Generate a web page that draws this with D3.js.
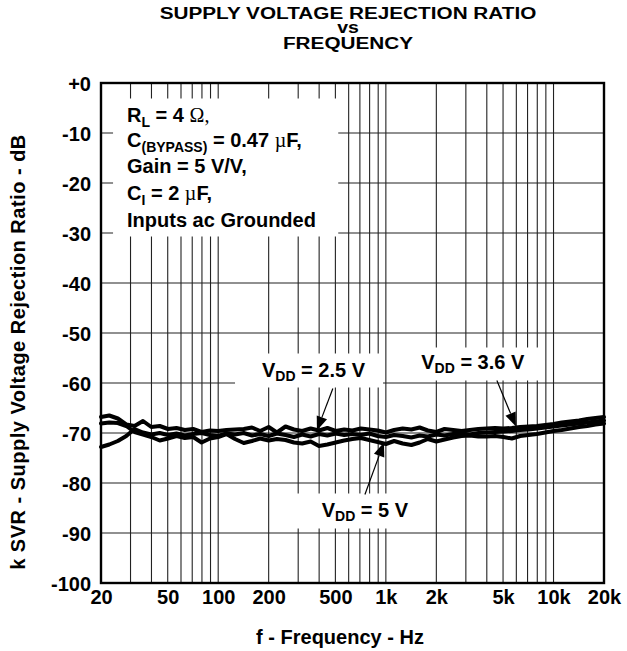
<!DOCTYPE html>
<html><head><meta charset="utf-8">
<script src="https://cdn.jsdelivr.net/npm/d3@7"></script>
<style>
body{margin:0;background:#fff;}
svg text{font-family:"Liberation Sans",Arial,Helvetica,sans-serif;font-weight:bold;fill:#000;}
</style></head><body>
<svg id="chart" width="627" height="651"></svg>
<script>
// ---------- data ----------
const freqs = [20, 22.4, 25.2, 28.3, 31.7, 35.6, 39.9, 44.8, 50.2, 56.4, 63.2, 70.9, 79.6, 89.3, 100, 112,
  126, 142, 159, 178, 200, 224, 252, 283, 317, 356, 399, 448, 502, 564, 632,
  709, 796, 893, 1000, 1120, 1260, 1420, 1590, 1780, 2000, 2240, 2520, 2830, 3170, 3560,
  3990, 4480, 5020, 5640, 6320, 7090, 7960, 8930, 10000, 11200, 12600, 14200, 15900, 17800, 20000];
const vdd25 = [-66.8, -66.5, -67.1, -68.3, -68.6, -67.6, -68.8, -68.6, -69.2, -69.0, -69.4, -69.2, -69.8, -69.5, -69.6, -69.4,
  -69.3, -69.2, -68.9, -69.6, -68.8, -69.9, -68.7, -69.3, -69.6, -69.1, -69.5, -69.0, -69.6, -69.3, -69.5,
  -69.1, -69.3, -69.5, -69.9, -69.4, -69.1, -69.3, -68.9, -69.5, -69.8, -69.2, -69.4, -69.6, -69.4, -69.2,
  -69.1, -69.0, -69.1, -69.0, -68.8, -68.7, -68.6, -68.4, -68.2, -67.9, -67.7, -67.5, -67.2, -67.0, -66.8];
const vdd36 = [-72.8, -72.3, -71.6, -70.6, -69.2, -69.9, -70.3, -70.0, -70.4, -70.1, -70.5, -70.2, -70.0, -70.4, -70.6, -70.1,
  -70.3, -70.0, -70.5, -70.2, -70.6, -70.1, -70.4, -70.8, -70.3, -70.7, -70.2, -70.5, -70.1, -70.4, -70.2,
  -70.4, -70.1, -70.6, -70.8, -70.4, -70.6, -70.9, -70.5, -70.7, -70.3, -70.5, -70.2, -70.1, -70.3, -70.0,
  -69.9, -69.8, -69.7, -69.6, -69.4, -69.3, -69.1, -68.9, -68.7, -68.5, -68.3, -68.1, -67.9, -67.7, -67.5];
const vdd5 = [-68.1, -67.9, -68.0, -68.6, -69.8, -70.3, -70.8, -71.5, -71.1, -70.6, -71.0, -70.8, -71.9, -71.1, -70.8, -70.2,
  -71.2, -72.0, -71.6, -71.1, -71.5, -71.2, -71.4, -71.9, -72.1, -71.7, -72.6, -72.3, -71.9, -71.5, -71.2,
  -71.0, -71.4, -71.8, -72.2, -71.6, -72.1, -72.4, -71.9, -71.2, -71.7, -71.3, -70.9, -70.6, -70.5, -70.7,
  -70.7, -70.6, -70.8, -71.1, -70.6, -70.4, -70.2, -69.9, -69.6, -69.4, -69.1, -68.8, -68.6, -68.3, -68.1];

const yTicks = [0, -10, -20, -30, -40, -50, -60, -70, -80, -90, -100];
const yTickLabels = ["+0", "-10", "-20", "-30", "-40", "-50", "-60", "-70", "-80", "-90", "-100"];
const xTicks = [20, 50, 100, 200, 500, 1000, 2000, 5000, 10000, 20000];
const xTickLabels = ["20", "50", "100", "200", "500", "1k", "2k", "5k", "10k", "20k"];
const gridFreqs = [30, 40, 50, 60, 70, 80, 90, 100, 200, 300, 400, 500, 600, 700, 800, 900, 1000,
  2000, 3000, 4000, 5000, 6000, 7000, 8000, 9000, 10000];
const seriesNames = ["VDD = 2.5 V", "VDD = 3.6 V", "VDD = 5 V"];

// ---------- layout ----------
const svg = d3.select("#chart");
const plot = {left: 101, top: 83, right: 604, bottom: 583};
const x = d3.scaleLog().domain([20, 20000]).range([plot.left, plot.right]);
const y = d3.scaleLinear().domain([-100, 0]).range([plot.bottom, plot.top]);

// title
const title = svg.append("g").attr("transform", "translate(348,0) scale(1.22,1)");
title.append("text").attr("x", 0).attr("y", 19).attr("text-anchor", "middle").attr("font-size", 17).text("SUPPLY VOLTAGE REJECTION RATIO");
title.append("text").attr("x", 0).attr("y", 33).attr("text-anchor", "middle").attr("font-size", 16).text("vs");
title.append("text").attr("x", 0).attr("y", 49).attr("text-anchor", "middle").attr("font-size", 17).text("FREQUENCY");

// grid
const grid = svg.append("g").attr("stroke", "#222").attr("stroke-width", 1.1);
grid.selectAll("line.v").data(gridFreqs).join("line").attr("class", "v")
  .attr("x1", d => x(d)).attr("x2", d => x(d)).attr("y1", plot.top).attr("y2", plot.bottom);
grid.selectAll("line.h").data(yTicks.filter(d => d !== 0 && d !== -100)).join("line").attr("class", "h")
  .attr("x1", plot.left).attr("x2", plot.right).attr("y1", d => y(d)).attr("y2", d => y(d));

// white annotation boxes (data space: [f0,f1],[db0,db1])
const boxes = [
  {f: [23.6, 520], db: [-3.1, -30.7]},
  {f: [126, 962], db: [-54.1, -60.9]},
  {f: [1300, 8500], db: [-52.9, -59.5]},
  {f: [250, 1710], db: [-82.1, -89.1]}
];
svg.append("g").selectAll("rect").data(boxes).join("rect")
  .attr("x", d => x(d.f[0])).attr("width", d => x(d.f[1]) - x(d.f[0]))
  .attr("y", d => y(d.db[0])).attr("height", d => y(d.db[1]) - y(d.db[0]))
  .attr("fill", "#fff");

// curves
const series = [vdd25, vdd36, vdd5];
const line = d3.line().x((d, i) => x(freqs[i])).y(d => y(d));
svg.append("g").selectAll("path").data(series).join("path")
  .attr("d", d => line(d)).attr("fill", "none").attr("stroke", "#000")
  .attr("stroke-width", 4).attr("stroke-linejoin", "round").attr("stroke-linecap", "round");

// frame
svg.append("rect").attr("x", plot.left).attr("y", plot.top)
  .attr("width", plot.right - plot.left).attr("height", plot.bottom - plot.top)
  .attr("fill", "none").attr("stroke", "#000").attr("stroke-width", 2.4);

// axes
const yAxis = svg.append("g").attr("transform", `translate(${plot.left},0)`)
  .call(d3.axisLeft(y).tickValues(yTicks).tickFormat((d, i) => yTickLabels[i]).tickSize(0).tickPadding(10));
yAxis.select(".domain").remove();
yAxis.selectAll("text").attr("font-size", 20).attr("font-family", null).attr("dy", "0.36em");
const xAxis = svg.append("g").attr("transform", `translate(0,${plot.bottom})`)
  .call(d3.axisBottom(x).tickValues(xTicks).tickFormat((d, i) => xTickLabels[i]).tickSize(0).tickPadding(7));
xAxis.select(".domain").remove();
xAxis.selectAll("text").attr("font-size", 20).attr("font-family", null);

// axis titles
svg.append("text").attr("x", 340).attr("y", 644).attr("text-anchor", "middle").attr("font-size", 20)
  .text("f - Frequency - Hz");
svg.append("text").attr("transform", "translate(25,352) rotate(-90)").attr("text-anchor", "middle")
  .attr("font-size", 20).attr("letter-spacing", 0.5).text("k SVR - Supply Voltage Rejection Ratio - dB");

// legend text
const lg = svg.append("g").attr("font-size", 20);
const legendX = x(28.6);
function addLine(yPos, parts) {
  const t = lg.append("text").attr("x", legendX).attr("y", yPos);
  parts.forEach(p => {
    const s = t.append("tspan").text(p.t);
    if (p.sub) s.attr("font-size", 14).attr("dy", 5);
    if (p.back) s.attr("dy", -5);
    if (p.sym) s.attr("font-family", "Liberation Serif, DejaVu Serif, serif").attr("font-weight", "normal");
  });
}
addLine(121.5, [{t: "R"}, {t: "L", sub: true}, {t: " = 4 ", back: true}, {t: "\u03A9,", sym: true}]);
addLine(147, [{t: "C"}, {t: "(BYPASS)", sub: true}, {t: " = 0.47 ", back: true}, {t: "\u00B5", sym: true}, {t: "F,"}]);
addLine(173, [{t: "Gain = 5 V/V,"}]);
addLine(199.5, [{t: "C"}, {t: "I", sub: true}, {t: " = 2 ", back: true}, {t: "\u00B5", sym: true}, {t: "F,"}]);
addLine(226.5, [{t: "Inputs ac Grounded"}]);

// series labels with arrows (data space)
const labels = [
  {name: seriesNames[0], f: 370, db: -58.7, from: [483, -61.1], to: [388, -69.5]},
  {name: seriesNames[1], f: 3300, db: -57.1, from: [4594, -59.5], to: [5970, -68.7]},
  {name: seriesNames[2], f: 750, db: -86.8, from: [750, -82.3], to: [974, -71.9]}
];
const lab = svg.append("g");
labels.forEach(l => {
  const t = lab.append("text").attr("x", x(l.f)).attr("y", y(l.db)).attr("text-anchor", "middle").attr("font-size", 20);
  t.append("tspan").text("V");
  t.append("tspan").text("DD").attr("font-size", 14).attr("dy", 4);
  t.append("tspan").text(" = " + l.name.split("= ")[1]).attr("dy", -4);
  const x1 = x(l.from[0]), y1 = y(l.from[1]), x2 = x(l.to[0]), y2 = y(l.to[1]);
  const ang = Math.atan2(y2 - y1, x2 - x1);
  const len = 14, half = 5.5;
  const bx = x2 - len * Math.cos(ang), by = y2 - len * Math.sin(ang);
  lab.append("line").attr("x1", x1).attr("y1", y1).attr("x2", bx).attr("y2", by)
    .attr("stroke", "#000").attr("stroke-width", 1.2);
  const px = -Math.sin(ang) * half, py = Math.cos(ang) * half;
  lab.append("path").attr("d", `M${x2},${y2}L${bx + px},${by + py}L${bx - px},${by - py}Z`).attr("fill", "#000");
});
</script>
</body></html>
